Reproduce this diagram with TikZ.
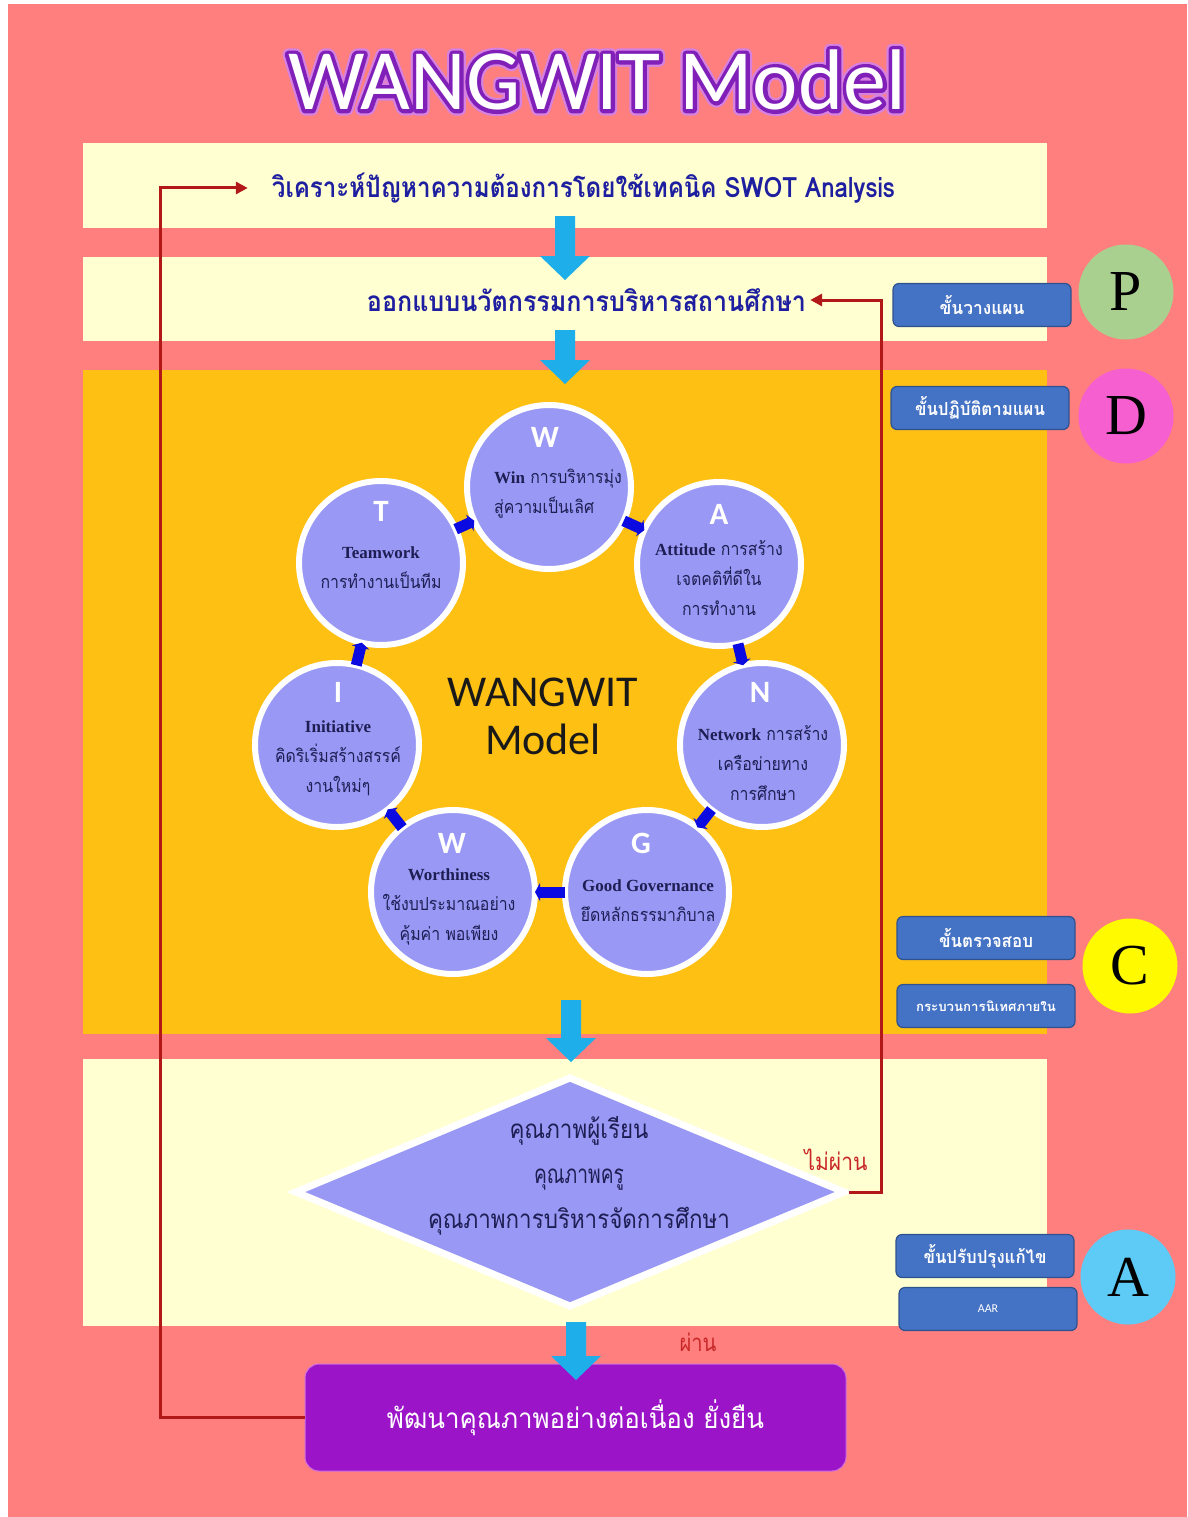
\documentclass[tikz,border=0pt]{standalone}
\usepackage{fontspec}
\usepackage{graphicx}
\setmainfont{Liberation Serif}
\newfontfamily\thai[Script=Thai]{Loma}
\newfontfamily\thaic[Script=Thai,FakeStretch=0.88]{Loma}
\newfontfamily\cali{Carlito}
\newfontfamily\caliglow[FakeBold=14]{Carlito}
\newfontfamily\caliline[FakeBold=9]{Carlito}
\newfontfamily\lsr{Liberation Serif}
\usetikzlibrary{shapes.geometric,arrows.meta,shadows,calc}
\definecolor{bgsalmon}{RGB}{255,127,127}
\definecolor{panelyel}{RGB}{255,255,210}
\definecolor{panelorg}{RGB}{255,192,20}
\definecolor{peri}{RGB}{153,153,245}
\definecolor{navyone}{RGB}{30,30,160}
\definecolor{circtext}{RGB}{30,30,85}
\definecolor{lblblue}{RGB}{68,114,196}
\definecolor{lblborder}{RGB}{47,82,143}
\definecolor{fbred}{RGB}{178,24,24}
\definecolor{lblred}{RGB}{200,40,40}
\definecolor{arrcyan}{RGB}{30,175,234}
\definecolor{devpurple}{RGB}{155,20,200}
\definecolor{pgreen}{RGB}{169,208,142}
\definecolor{dpink}{RGB}{245,95,208}
\definecolor{cyell}{RGB}{255,250,0}
\definecolor{ablue}{RGB}{93,203,245}
\definecolor{titlepurple}{RGB}{128,32,184}
\definecolor{titleglow}{RGB}{215,130,225}
\definecolor{linkblue}{RGB}{10,10,225}
\newcommand{\fitw}[2]{\resizebox{#1}{\height}{#2}}
\newcommand{\cyanarrow}[3]{%
  \fill[arrcyan] ({#1-10},#2) -- ({#1+10},#2) -- ({#1+10},{#3-24}) -- ({#1+25},{#3-24}) -- (#1,#3) -- ({#1-25},{#3-24}) -- ({#1-10},{#3-24}) -- cycle;}
\begin{document}
\begin{tikzpicture}[x=1pt,y=-1pt,
  steptext/.style={font=\thai\bfseries\fontsize{28}{32}\selectfont, text=navyone, inner ysep=2pt},
  wcirc/.style={circle, fill=peri, draw=white, line width=6pt, minimum size=164pt, inner sep=0pt,
    drop shadow={shadow xshift=2pt, shadow yshift=-2pt, opacity=0.35}},
  cletter/.style={font=\cali\bfseries\fontsize{31}{31}\selectfont, text=white},
  ctext/.style={font=\thaic\fontsize{18}{30}\selectfont, text=circtext, align=center},
  lbl/.style={rectangle, rounded corners=6pt, fill=lblblue, draw=lblborder, line width=1.2pt,
    minimum width=178pt, minimum height=43pt, inner sep=0pt, text=white, font=\thai\bfseries\fontsize{18}{20}\selectfont},
  pdca/.style={circle, minimum size=95pt, inner sep=0pt, font=\lsr\fontsize{58}{58}\selectfont, text=black},
  link/.style={draw=linkblue, line width=11pt, -{Triangle[length=5pt,width=18pt]}, shorten <=-3pt, shorten >=-3pt},
  fb/.style={draw=fbred, line width=3pt, -{Triangle[length=12pt,width=12pt]}},
  redlbl/.style={text=lblred, font=\thaic\fontsize{24}{26}\selectfont, inner sep=0pt}
]
\useasboundingbox (0,0) rectangle (1187,1517);
\fill[white] (0,0) rectangle (1187,1517);
\fill[bgsalmon] (8,4) rectangle (1187,1517);
% panels
\fill[panelyel] (83,143) rectangle (1047,228);
\fill[panelyel] (83,257) rectangle (1047,341);
\fill[panelorg] (83,370) rectangle (1047,1034);
\fill[panelyel] (83,1059) rectangle (1047,1326);

% title: glow, outline, white face
\coordinate (tc) at (597,80);
\begin{scope}[line join=round]
\node[inner sep=0pt, text=titleglow, font=\caliglow\fontsize{86}{90}\selectfont] (titleglow) at (tc) {WANGWIT Model};
\end{scope}
\begin{scope}[line join=round]
\node[inner sep=0pt, text=titlepurple, font=\caliline\fontsize{86}{90}\selectfont] (titleline) at (tc) {WANGWIT Model};
\end{scope}
\node[inner sep=0pt, text=white, font=\cali\fontsize{86}{90}\selectfont] (title) at (tc) {WANGWIT Model};

% step texts
\node[steptext, inner xsep=24pt] (t1) at (583.5,188) {\fitw{623pt}{วิเคราะห์ปัญหาความต้องการโดยใช้เทคนิค SWOT Analysis}};
\node[steptext, inner xsep=4pt] (t2) at (586.5,300) {\fitw{439pt}{ออกแบบนวัตกรรมการบริหารสถานศึกษา}};

\cyanarrow{565}{216}{280}
\cyanarrow{565}{330}{384}
\cyanarrow{571}{1000}{1062}

% circles
\node[wcirc] (W1) at (549,487) {};
\node[wcirc] (A)  at (719,564) {};
\node[wcirc] (N)  at (762,745) {};
\node[wcirc] (G)  at (647,892) {};
\node[wcirc] (W2) at (453,892) {};
\node[wcirc] (I)  at (337,745) {};
\node[wcirc] (T)  at (381,563) {};

\node[cletter] (lW1) at (545,437) {W};
\node[cletter] (lA)  at (719,514) {A};
\node[cletter] (lN)  at (760,692) {N};
\node[cletter] (lG)  at (641,843) {G};
\node[cletter] (lW2) at (452,843) {W};
\node[cletter] (lI)  at (338,692) {I};
\node[cletter] (lT)  at (381,511) {T};

\newcommand{\lw}[1]{{\lsr\bfseries\fontsize{17}{30}\selectfont #1}}
\node[ctext, align=left] (xW1) at (558,494) {\lw{Win} การบริหารมุ่ง\\สู่ความเป็นเลิศ};
\node[ctext] (xA)  at (719,578) {\lw{Attitude} การสร้าง\\เจตคติที่ดีใน\\การทำงาน};
\node[ctext] (xN)  at (763,763) {\lw{Network} การสร้าง\\เครือข่ายทาง\\การศึกษา};
\node[ctext] (xG)  at (648,901) {\lw{Good Governance}\\ยึดหลักธรรมาภิบาล};
\node[ctext] (xW2) at (449,907) {\lw{Worthiness}\\ใช้งบประมาณอย่าง\\คุ้มค่า พอเพียง};
\node[ctext] (xI)  at (338,758) {\lw{Initiative}\\คิดริเริ่มสร้างสรรค์\\งานใหม่ๆ};
\node[ctext] (xT)  at (381,568) {\lw{Teamwork}\\การทำงานเป็นทีม};

\draw[link] (W1) -- (A);
\draw[link] (A) -- (N);
\draw[link] (N) -- (G);
\draw[link] (G) -- (W2);
\draw[link] (W2) -- (I);
\draw[link] (I) -- (T);
\draw[link] (T) -- (W1);

\node[font=\cali\fontsize{44}{48}\selectfont, text=black!90, align=center] (mid) at (543,716) {WANGWIT\\Model};

% decision diamond
\node[diamond, fill=peri, draw=white, line width=7pt, minimum width=551pt, minimum height=231pt, inner sep=0pt] (dec) at (570,1192) {};
\node[font=\thaic\fontsize{26}{45}\selectfont, text=circtext, align=center] (dectext) at (579,1176)
  {\fitw{139pt}{คุณภาพผู้เรียน}\\\fitw{90pt}{คุณภาพครู}\\\fitw{302pt}{คุณภาพการบริหารจัดการศึกษา}};

% final box
\node[rectangle, rounded corners=14pt, fill=devpurple, draw={rgb,255:red,205;green,110;blue,225}, line width=1pt,
  minimum width=541pt, minimum height=107pt, inner sep=0pt, text=white, font=\thaic\fontsize{28}{30}\selectfont] (dev) at (575.5,1417.5)
  {\fitw{377pt}{พัฒนาคุณภาพอย่างต่อเนื่อง ยั่งยืน}};
\cyanarrow{576}{1322}{1380}

\node[redlbl] (nopass) at (836,1160) {\fitw{63pt}{ไม่ผ่าน}};
\node[redlbl] (pass) at (698,1342) {\fitw{37pt}{ผ่าน}};

% feedback connectors
\coordinate (rc) at (881,1192);
\draw[fb] (dec.east) -- (rc) |- (t2.east);
\coordinate (lc) at (160,188);
\draw[fb] (dev.west) -| (lc) -- (t1.west);

% PDCA labels
\node[lbl] (L1) at (982,305) {\fitw{85pt}{ขั้นวางแผน}};
\node[lbl] (L2) at (980,408) {\fitw{130pt}{ขั้นปฏิบัติตามแผน}};
\node[lbl] (L3) at (986,938) {\fitw{94pt}{ขั้นตรวจสอบ}};
\node[lbl, font=\thai\bfseries\fontsize{13}{15}\selectfont] (L4) at (986,1006) {\fitw{140pt}{กระบวนการนิเทศภายใน}};
\node[lbl] (L5) at (985,1256) {\fitw{123pt}{ขั้นปรับปรุงแก้ไข}};
\node[lbl, font=\cali\fontsize{12}{14}\selectfont] (L6) at (988,1309) {AAR};

\node[pdca, fill=pgreen] (P) at (1126,292) {P};
\node[pdca, fill=dpink] (D) at (1126,416) {D};
\node[pdca, fill=cyell] (C) at (1130,966) {C};
\node[pdca, fill=ablue] (Aa) at (1128,1277) {A};
\end{tikzpicture}
\end{document}
